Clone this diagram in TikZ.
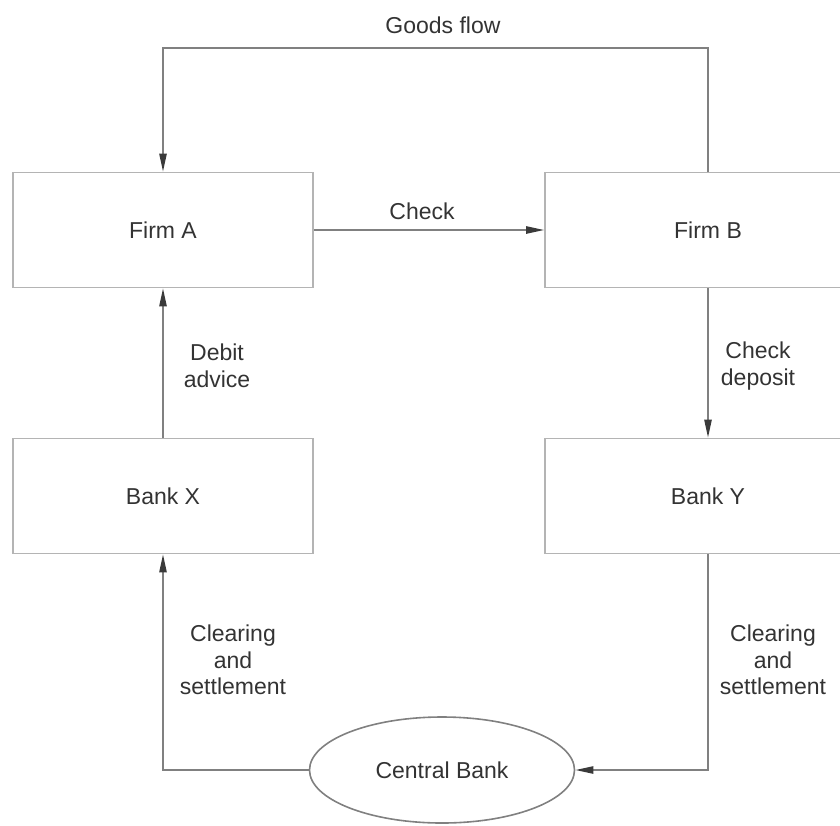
\documentclass[tikz,border=0pt]{standalone}
\usepackage{fontspec}
\setmainfont{Liberation Sans}
\usetikzlibrary{shapes.geometric,arrows.meta}
\definecolor{ink}{HTML}{333333}
\definecolor{wire}{HTML}{808080}
\definecolor{edge}{HTML}{B4B4B4}
\definecolor{tipink}{HTML}{3A3A3A}
\tikzset{
  x=0.5pt, y=-0.5pt,
  every node/.style={font=\fontsize{11.5}{13.3}\selectfont, text=ink},
  actor/.style={draw=edge, line width=0.8pt, rectangle, minimum height=57.5pt, inner sep=0pt},
  hub/.style={draw=wire, line width=0.8pt, ellipse, minimum width=132.5pt, minimum height=53pt, inner sep=0pt},
  flow/.style={draw=wire, line width=0.9pt, -{Triangle[width=3.6pt, length=9pt, color=tipink]}},
  tag/.style={align=center, inner sep=0pt}
}
\begin{document}
\begin{tikzpicture}
\useasboundingbox (0,0) rectangle (840,825);
% parties and banks
\node[actor, minimum width=150pt] (fa) at (163,230) {Firm A};
\node[actor, minimum width=163pt] (fb) at (708,230) {Firm B};
\node[actor, minimum width=150pt] (bx) at (163,496) {Bank X};
\node[actor, minimum width=163pt] (by) at (708,496) {Bank Y};
\node[hub] (cb) at (442,770) {Central Bank};
% flows between them
\draw[flow] (fb.north) -- ++(0,-124) -| (fa.north);
\draw[flow] (fa.east) -- (fb.west);
\draw[flow] (bx.north) -- (fa.south);
\draw[flow] (fb.south) -- (by.north);
\draw[flow] (by.south) |- (cb.east);
\draw[flow] (cb.west) -| (bx.south);
% labels on the flows
\node[tag] (lgoods) at (443,25) {Goods flow};
\node[tag] (lcheck) at (422,211) {Check};
\node[tag] (ldebit) at (217,366) {Debit\\advice};
\node[tag] (ldep) at (758,366) {Check\\deposit};
\node[tag] (lclx) at (233,660) {Clearing\\and\\settlement};
\node[tag] (lcly) at (773,660) {Clearing\\and\\settlement};
\end{tikzpicture}
\end{document}
